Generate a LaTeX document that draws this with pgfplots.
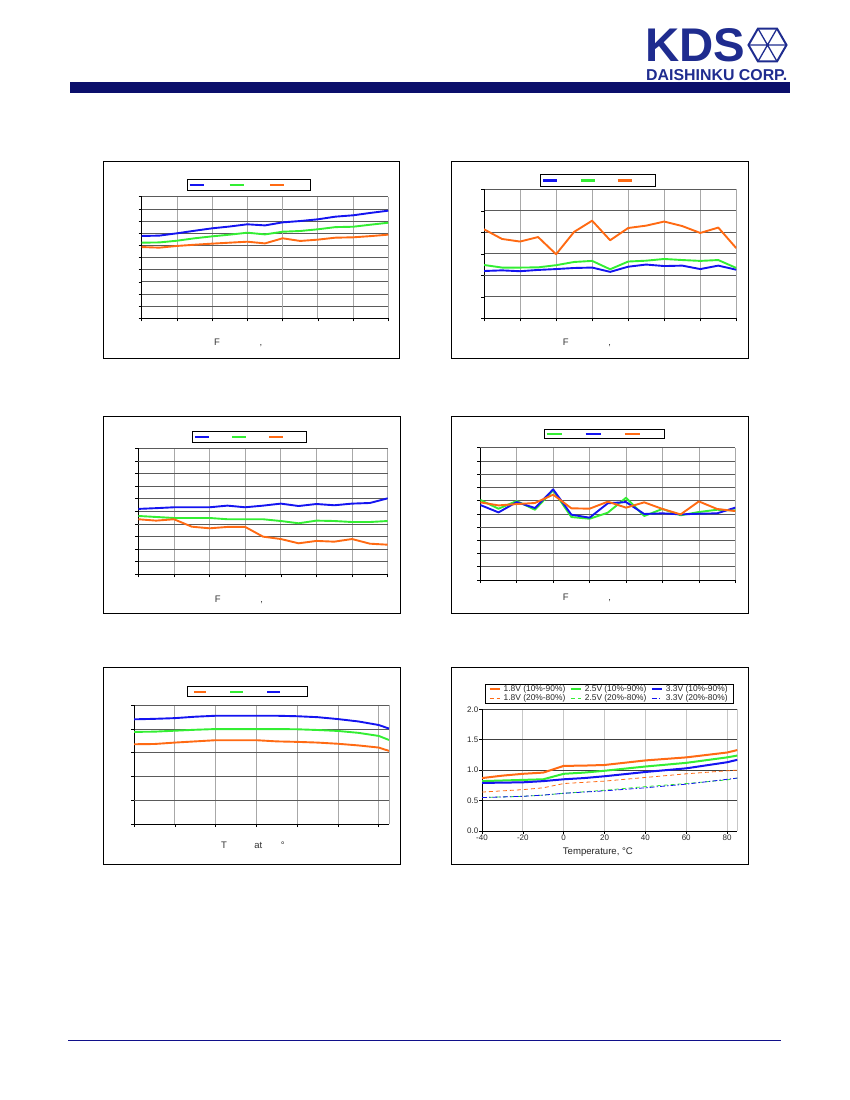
\documentclass[border=0pt]{standalone}
\usepackage{pgfplots}
\pgfplotsset{compat=1.18}
\usepackage{fontspec}
\setmainfont{Liberation Sans}
\setsansfont{Liberation Sans}
\definecolor{kdsnavy}{HTML}{0B0F6B}
\definecolor{logoblue}{HTML}{1F2C8F}
\definecolor{footnavy}{HTML}{10108A}
\definecolor{cblue}{HTML}{1414F0}
\definecolor{cgreen}{HTML}{33EE33}
\definecolor{corange}{HTML}{FF6A13}
\definecolor{hgrid}{HTML}{5A5A5A}
\definecolor{vgrid}{HTML}{A8A8A8}
\newcommand{\ent}[1]{\rule[-2.5pt]{0pt}{5pt}\hspace*{#1}}
\pgfplotsset{
  samp/.style={legend image code/.code={\draw[##1,line width=2.2pt] (0pt,0pt) -- (#1,0pt);}},
  small chart/.style={
    scale only axis,
    axis x line*=bottom, axis y line*=left,
    axis line style={black, line width=0.8pt},
    tick align=outside, major tick length=3pt,
    tick style={black, line width=0.6pt},
    xticklabels={}, yticklabels={},
    grid=major,
    y grid style={hgrid, line width=0.7pt},
    x grid style={vgrid, line width=0.7pt},
    every axis plot/.append style={line width=1.9pt, no markers, line join=round},
    legend columns=3,
    legend style={draw=black, line width=0.8pt, fill=white, anchor=center,
      font=\fontsize{6}{6}\selectfont, column sep=0pt, row sep=0pt,
      nodes={inner sep=0pt}},
  },
}
\begin{document}
\begin{tikzpicture}
\path[use as bounding box] (0pt,0pt) rectangle (850pt,-1100pt);
% header
\fill[kdsnavy] (70pt,-82pt) rectangle (790pt,-93pt);
\node[logoblue, inner sep=0pt, anchor=north west] at (645pt,-28pt) {\vbox{\offinterlineskip
  \hbox{\resizebox{100pt}{33pt}{\bfseries KDS}}\vskip7.5pt
  \hbox{\hspace*{1pt}\resizebox{141pt}{11pt}{\bfseries DAISHINKU CORP.}}}};
\begin{scope}[shift={(767.5pt,-45pt)}, logoblue, line width=2pt]
\draw (0:19pt) -- (60:19pt) -- (120:19pt) -- (180:19pt) -- (240:19pt) -- (300:19pt) -- cycle;
\draw[line width=1.3pt] (0:19pt) -- (180:19pt) (60:19pt) -- (240:19pt) (120:19pt) -- (300:19pt);
\end{scope}
% footer
\draw[footnavy, line width=1.3pt] (68pt,-1040.3pt) -- (781pt,-1040.3pt);
% frames
\draw[black, line width=0.9pt] (103pt,-161pt) rectangle (399pt,-358pt);
\draw[black, line width=0.9pt] (451pt,-161pt) rectangle (748pt,-358pt);
\draw[black, line width=0.9pt] (103pt,-416pt) rectangle (400pt,-613pt);
\draw[black, line width=0.9pt] (451pt,-416pt) rectangle (748pt,-613pt);
\draw[black, line width=0.9pt] (103pt,-667pt) rectangle (400pt,-864pt);
\draw[black, line width=0.9pt] (451pt,-667pt) rectangle (748pt,-864pt);
% axis label fragments
\begin{scope}[every node/.style={inner sep=0pt, anchor=base, font=\fontsize{9.5}{10}\selectfont, text=black!80}]
\node at (217pt,-345.5pt) {F}; \node at (261pt,-345.5pt) {,};
\node at (565.7pt,-345.2pt) {F}; \node at (609.7pt,-345.2pt) {,};
\node at (217.7pt,-602.8pt) {F}; \node at (261.7pt,-602.8pt) {,};
\node at (565.7pt,-600.8pt) {F}; \node at (609.7pt,-600.8pt) {,};
\node at (224pt,-848.3pt) {T}; \node at (258.3pt,-848.3pt) {at}; \node at (282.7pt,-848.3pt) {°};
\end{scope}

% ---------- chart 1
\begin{axis}[small chart, at={(141.7pt,-318.3pt)}, anchor=south west,
  width=246.6pt, height=121.6pt, xmin=0, xmax=7, ymin=0, ymax=10,
  xtick={0,...,7}, ytick={0,...,10}, samp=14pt,
  extra x ticks={4}, extra x tick labels={}, extra x tick style={grid style={gray!45, line width=1.6pt}},
  legend style={at={(axis description cs:0.434,1.095)}, inner xsep=1.5pt, inner ysep=3.3pt}]
\addplot[cblue] coordinates {(0,6.77)(0.5,6.8)(1,6.99)(1.5,7.2)(2,7.4)(2.5,7.55)(3,7.73)(3.5,7.64)(4,7.89)(4.5,8.0)(5,8.14)(5.5,8.36)(6,8.47)(6.5,8.67)(7,8.85)};
\addlegendentry{\ent{24pt}}
\addplot[cgreen] coordinates {(0,6.22)(0.5,6.24)(1,6.38)(1.5,6.58)(2,6.74)(2.5,6.88)(3,7.04)(3.5,6.9)(4,7.12)(4.5,7.18)(5,7.32)(5.5,7.5)(6,7.53)(6.5,7.7)(7,7.86)};
\addlegendentry{\ent{24pt}}
\addplot[corange] coordinates {(0,5.86)(0.5,5.81)(1,5.95)(1.5,6.05)(2,6.14)(2.5,6.22)(3,6.3)(3.5,6.16)(4,6.58)(4.5,6.36)(5,6.47)(5.5,6.63)(6,6.66)(6.5,6.76)(7,6.88)};
\addlegendentry{\ent{24pt}}
\end{axis}

% ---------- chart 2
\begin{axis}[small chart, at={(484pt,-318.3pt)}, anchor=south west,
  width=252.3pt, height=129pt, xmin=0, xmax=7, ymin=0, ymax=6,
  xtick={0,...,7}, ytick={0,...,6}, samp=14pt,
  extra y ticks={2}, extra y tick labels={}, extra y tick style={grid style={black!65, line width=1.5pt}},
  legend style={at={(axis description cs:0.452,1.068)}, inner xsep=1.5pt, inner ysep=3.7pt}]
\addplot[cblue] coordinates {(0,2.2)(0.5,2.23)(1,2.19)(1.5,2.25)(2,2.29)(2.5,2.34)(3,2.36)(3.5,2.16)(4,2.4)(4.5,2.5)(5,2.43)(5.5,2.45)(6,2.29)(6.5,2.45)(7,2.26)};
\addlegendentry{\ent{21pt}}
\addplot[cgreen] coordinates {(0,2.48)(0.5,2.36)(1,2.36)(1.5,2.37)(2,2.47)(2.5,2.62)(3,2.67)(3.5,2.28)(4,2.64)(4.5,2.68)(5,2.76)(5.5,2.71)(6,2.67)(6.5,2.71)(7,2.34)};
\addlegendentry{\ent{21pt}}
\addplot[corange] coordinates {(0,4.14)(0.5,3.69)(1,3.57)(1.5,3.78)(2,2.98)(2.5,4.02)(3,4.54)(3.5,3.63)(4,4.2)(4.5,4.31)(5,4.5)(5.5,4.29)(6,3.97)(6.5,4.22)(7,3.26)};
\addlegendentry{\ent{21pt}}
\end{axis}

% ---------- chart 3
\begin{axis}[small chart, at={(138.3pt,-574.3pt)}, anchor=south west,
  width=249.4pt, height=126pt, xmin=0, xmax=7, ymin=0, ymax=10,
  xtick={0,...,7}, ytick={0,...,10}, samp=14pt,
  extra y ticks={4,9}, extra y tick labels={}, extra y tick style={grid style={black!65, line width=1.5pt}},
  legend style={at={(axis description cs:0.446,1.090)}, inner xsep=1.5pt, inner ysep=3.8pt}]
\addplot[cblue] coordinates {(0,5.19)(0.5,5.25)(1,5.32)(1.5,5.32)(2,5.32)(2.5,5.45)(3,5.32)(3.5,5.45)(4,5.61)(4.5,5.42)(5,5.58)(5.5,5.48)(6,5.61)(6.5,5.66)(7,6.03)};
\addlegendentry{\ent{21pt}}
\addplot[cgreen] coordinates {(0,4.63)(0.5,4.55)(1,4.47)(1.5,4.47)(2,4.47)(2.5,4.37)(3,4.37)(3.5,4.37)(4,4.23)(4.5,4.05)(5,4.26)(5.5,4.23)(6,4.15)(6.5,4.15)(7,4.23)};
\addlegendentry{\ent{21pt}}
\addplot[corange] coordinates {(0,4.37)(0.5,4.26)(1,4.37)(1.5,3.78)(2,3.65)(2.5,3.76)(3,3.76)(3.5,2.99)(4,2.8)(4.5,2.46)(5,2.65)(5.5,2.59)(6,2.8)(6.5,2.43)(7,2.35)};
\addlegendentry{\ent{21pt}}
\end{axis}

% ---------- chart 4
\begin{axis}[small chart, at={(480.3pt,-580pt)}, anchor=south west,
  width=255pt, height=132.3pt, xmin=0, xmax=7, ymin=0, ymax=10,
  xtick={0,...,7}, ytick={0,...,10}, samp=15pt,
  extra y ticks={4,8}, extra y tick labels={}, extra y tick style={grid style={black!65, line width=1.5pt}},
  legend style={at={(axis description cs:0.486,1.101)}, inner xsep=1.5pt, inner ysep=2.5pt}]
\addplot[cgreen] coordinates {(0,6.05)(0.5,5.39)(1,5.97)(1.5,5.31)(2,6.78)(2.5,4.76)(3,4.63)(3.5,5.09)(4,6.22)(4.5,4.84)(5,5.37)(5.5,4.89)(6,5.14)(6.5,5.31)(7,5.26)};
\addlegendentry{\ent{22pt}}
\addplot[cblue] coordinates {(0,5.67)(0.5,5.11)(1,5.89)(1.5,5.44)(2,6.85)(2.5,4.94)(3,4.71)(3.5,5.8)(4,5.89)(4.5,4.99)(5,5.04)(5.5,4.96)(6,5.01)(6.5,5.04)(7,5.47)};
\addlegendentry{\ent{22pt}}
\addplot[corange] coordinates {(0,5.87)(0.5,5.64)(1,5.74)(1.5,5.82)(2,6.45)(2.5,5.42)(3,5.39)(3.5,5.92)(4,5.47)(4.5,5.87)(5,5.37)(5.5,4.96)(6,5.94)(6.5,5.37)(7,5.21)};
\addlegendentry{\ent{22pt}}
\end{axis}

% ---------- chart 5
\begin{axis}[small chart, at={(134pt,-824pt)}, anchor=south west,
  width=255pt, height=118.7pt, xmin=-40, xmax=85, ymin=0, ymax=5,
  xtick={-40,-20,...,80}, ytick={0,...,5}, samp=12.5pt,
  extra x ticks={85}, extra x tick labels={}, extra x tick style={major tick length=0pt},
  extra y ticks={1}, extra y tick labels={}, extra y tick style={grid style={black!65, line width=1.5pt}},
  legend style={at={(axis description cs:0.446,1.114)}, inner xsep=5pt, inner ysep=3pt}]
\addplot[corange] coordinates {(-40,3.36)(-30,3.37)(-20,3.43)(-10,3.48)(0,3.53)(10,3.53)(20,3.53)(30,3.48)(40,3.46)(50,3.43)(60,3.38)(70,3.31)(80,3.22)(85,3.08)};
\addlegendentry{\ent{22pt}}
\addplot[cgreen] coordinates {(-40,3.88)(-30,3.89)(-20,3.93)(-10,3.97)(0,4.0)(10,4.0)(20,4.0)(30,4.0)(40,3.99)(50,3.96)(60,3.92)(70,3.84)(80,3.71)(85,3.54)};
\addlegendentry{\ent{22pt}}
\addplot[cblue] coordinates {(-40,4.41)(-30,4.43)(-20,4.46)(-10,4.52)(0,4.56)(10,4.56)(20,4.56)(30,4.56)(40,4.54)(50,4.5)(60,4.42)(70,4.32)(80,4.17)(85,4.02)};
\addlegendentry{\ent{22pt}}
\end{axis}

% ---------- chart 6
\begin{axis}[scale only axis, at={(482pt,-831pt)}, anchor=south west,
  width=255.3pt, height=121.7pt, xmin=-40, xmax=85, ymin=0, ymax=2,
  axis x line*=bottom, axis y line*=left,
  axis line style={black, line width=0.8pt},
  tick align=outside, major tick length=3pt,
  tick style={black, line width=0.6pt},
  xtick={-40,-20,...,80}, xticklabels={-40,-20,0,20,40,60,80},
  ytick={0,0.5,1,1.5,2}, yticklabels={0.0,0.5,1.0,1.5,2.0},
  ticklabel style={font=\fontsize{8}{8}\selectfont, text=black!85},
  yticklabel style={inner sep=0.5pt},
  xticklabel style={inner sep=1pt},
  grid=major,
  y grid style={black!75, line width=0.6pt},
  x grid style={black!22, line width=1pt},
  extra x ticks={85}, extra x tick labels={}, extra x tick style={major tick length=0pt},
  extra y ticks={1}, extra y tick labels={}, extra y tick style={grid style={black!50, line width=1.6pt}},
  xlabel={Temperature, °C},
  xlabel style={at={(axis description cs:0.454,0)}, anchor=center, yshift=-20.7pt, font=\fontsize{9.6}{10}\selectfont, text=black!85},
  every axis plot/.append style={no markers, line join=round},
  legend columns=3,
  legend image code/.code={\draw[#1] (0pt,0pt) -- (10pt,0pt);},
  legend style={at={(axis description cs:0.5,1.128)}, anchor=center, draw=black, line width=0.8pt,
    font=\fontsize{8.4}{9}\selectfont, inner xsep=3pt, inner ysep=0.5pt, row sep=-0.5pt,
    nodes={inner xsep=3pt, inner ysep=0.7pt, text=black!85},
    /tikz/every even column/.style={column sep=1.5pt}},
]
\addplot[corange, line width=2pt] coordinates {(-40,0.87)(-30,0.91)(-20,0.94)(-10,0.96)(0,1.07)(10,1.075)(20,1.085)(40,1.16)(60,1.21)(80,1.29)(85,1.33)};
\addlegendentry{1.8V (10\%-90\%)}
\addplot[cgreen, line width=2pt] coordinates {(-40,0.82)(-30,0.83)(-20,0.84)(-10,0.85)(0,0.94)(10,0.96)(20,0.99)(40,1.06)(60,1.12)(80,1.21)(85,1.24)};
\addlegendentry{2.5V (10\%-90\%)}
\addplot[cblue, line width=2pt] coordinates {(-40,0.79)(-30,0.795)(-20,0.80)(-10,0.82)(0,0.85)(10,0.87)(20,0.90)(40,0.97)(60,1.03)(80,1.13)(85,1.17)};
\addlegendentry{3.3V (10\%-90\%)}
\addplot[corange, line width=0.8pt, dash pattern=on 4pt off 3pt] coordinates {(-40,0.64)(-30,0.66)(-20,0.68)(-10,0.71)(0,0.78)(10,0.80)(20,0.82)(40,0.88)(60,0.94)(80,0.99)(85,1.0)};
\addlegendentry{1.8V (20\%-80\%)}
\addplot[cgreen, line width=0.8pt, dash pattern=on 4pt off 3pt] coordinates {(-40,0.55)(-30,0.56)(-20,0.57)(-10,0.59)(0,0.62)(10,0.645)(20,0.67)(40,0.73)(60,0.78)(80,0.84)(85,0.87)};
\addlegendentry{2.5V (20\%-80\%)}
\addplot[cblue, line width=0.8pt, dash pattern=on 5pt off 2pt on 1.5pt off 2pt] coordinates {(-40,0.55)(-30,0.56)(-20,0.57)(-10,0.59)(0,0.62)(10,0.64)(20,0.66)(40,0.71)(60,0.77)(80,0.85)(85,0.87)};
\addlegendentry{3.3V (20\%-80\%)}
\end{axis}
\end{tikzpicture}
\end{document}
